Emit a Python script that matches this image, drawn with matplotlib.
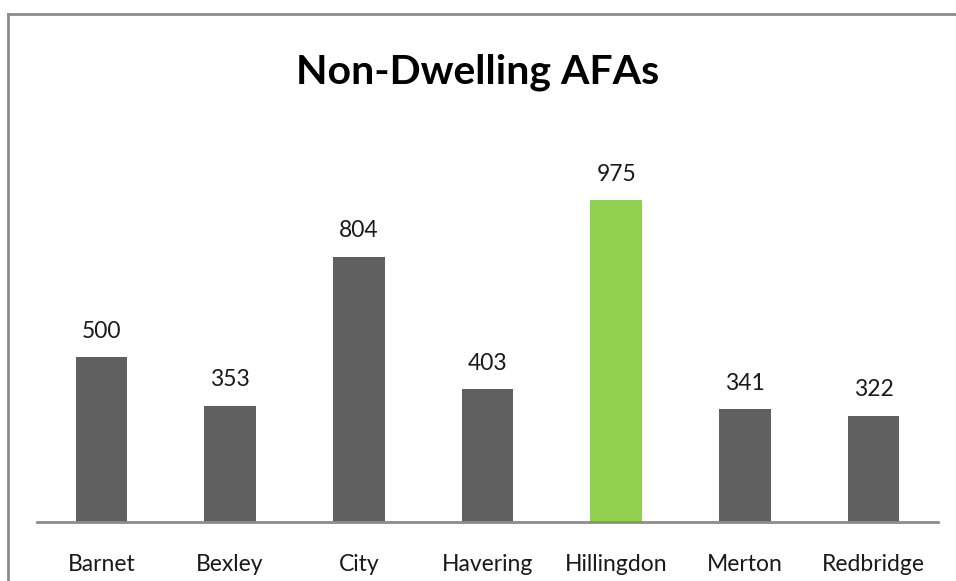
import matplotlib
matplotlib.use('Agg')
from matplotlib import pyplot as plt
from matplotlib.lines import Line2D

# data
boroughs = ['Barnet', 'Bexley', 'City', 'Havering', 'Hillingdon', 'Merton', 'Redbridge']
afas = [500, 353, 804, 403, 975, 341, 322]
bar_colors = ['#606060', '#606060', '#606060', '#606060', '#92D050', '#606060', '#606060']

plt.rcParams['font.family'] = ['Lato', 'DejaVu Sans']

W, H = 956, 581
fig = plt.figure(figsize=(W / 100, H / 100), dpi=100)

# рамка вокруг диаграммы
bx0, by0 = 7.5 / W, 1 - 13.5 / H
fig.add_artist(Line2D([bx0, bx0], [0, by0], transform=fig.transFigure, color='#8c8c8c', lw=2))
fig.add_artist(Line2D([bx0, 1], [by0, by0], transform=fig.transFigure, color='#8c8c8c', lw=2))

ymax = 1100
px_per_unit = 0.330
ax_left, ax_right = 37 / W, 938 / W
ax_bottom = 1 - 522 / H
ax_height = ymax * px_per_unit / H
ax = fig.add_axes([ax_left, ax_bottom, ax_right - ax_left, ax_height])

x = range(len(boroughs))
bars = ax.bar(x, afas, width=0.4, color=bar_colors)
for xi, v in zip(x, afas):
    ax.annotate(str(v), (xi, v), xytext=(0, 11), textcoords='offset points',
                ha='center', va='bottom', fontsize=16.5, color='#1a1a1a')

ax.set_xlim(-0.5, len(boroughs) - 0.5)
ax.set_ylim(0, ymax)
ax.set_xticks(list(x))
ax.set_xticklabels(boroughs, fontsize=16.5, color='#1a1a1a')
ax.tick_params(axis='x', length=0, pad=23)
ax.set_yticks([])
for s in ['top', 'right', 'left']:
    ax.spines[s].set_visible(False)
ax.spines['bottom'].set_color('#8c8c8c')
ax.spines['bottom'].set_linewidth(2)

fig.text(0.5, 1 - 72 / H, 'Non-Dwelling AFAs', ha='center', va='center',
         fontsize=29.5, fontweight='bold', color='#000000')

fig.savefig('out.png', dpi=100)
